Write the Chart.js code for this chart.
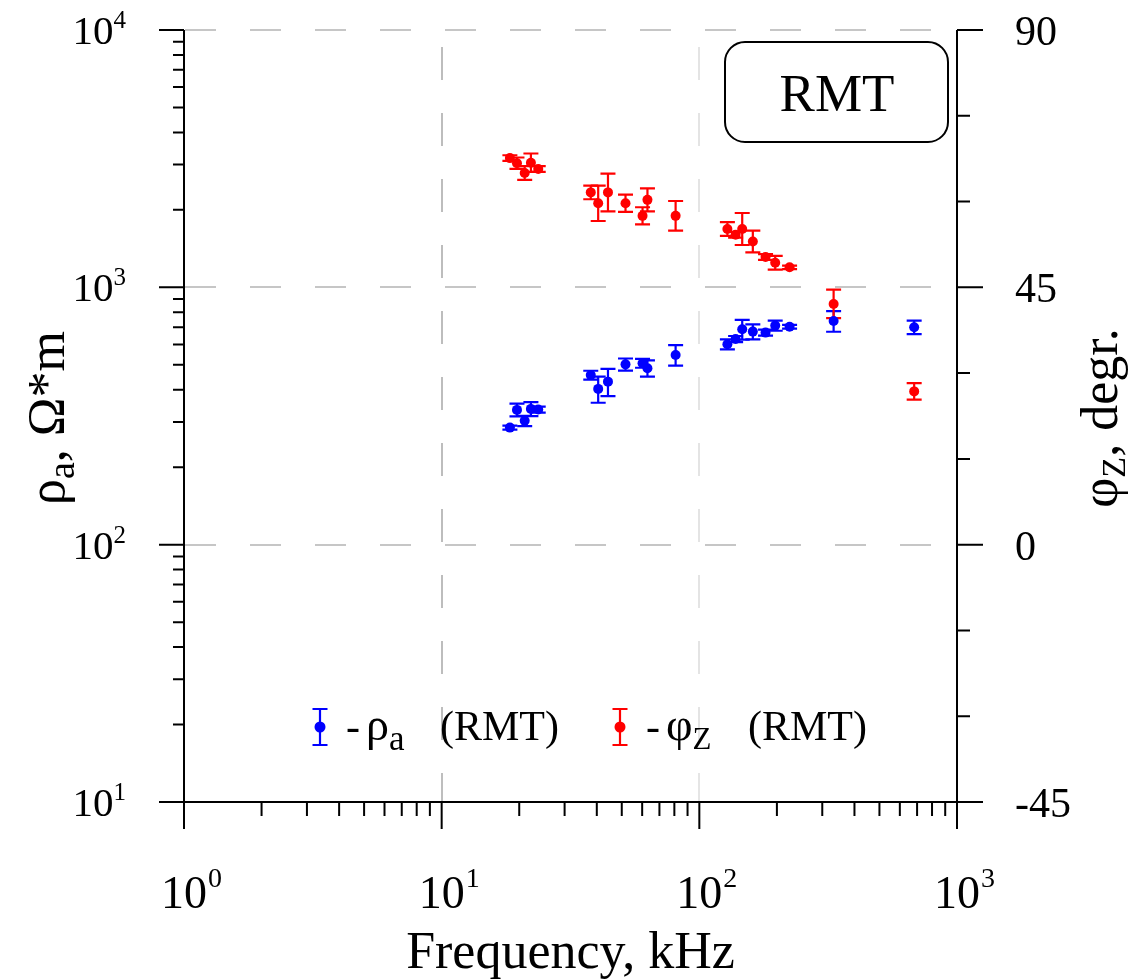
<!DOCTYPE html>
<html>
<head>
<meta charset="utf-8">
<script src="https://cdn.jsdelivr.net/npm/chart.js@4.4.0/dist/chart.umd.min.js"></script>
<style>
  html, body { margin: 0; padding: 0; background: #fff; }
  #wrap { width: 1130px; height: 980px; }
</style>
</head>
<body>
<div id="wrap"><canvas id="chart" width="1130" height="980"></canvas></div>
<script>
// RMT sounding data
const freqs = [18.4, 19.6, 21.0, 22.2, 23.7, 37.9, 40.5, 44.2, 51.7, 60.2, 62.9, 80.9,
               128.5, 138.3, 146.7, 161.3, 180.7, 197, 224, 332, 682];
const rhoValues = [285, 334, 303, 337, 335, 456, 403, 430, 502, 507, 485, 546,
                   601, 630, 687, 673, 667, 710, 703, 740, 700];
const rhoErrors = [5, 19, 14, 21, 9, 18, 47, 52, 27, 20, 35, 50,
                   27, 17, 61, 45, 18, 32, 12, 68, 42];
const phiValues = [67.6, 66.7, 65.0, 66.8, 65.7, 61.6, 59.7, 61.6, 59.7, 57.5, 60.3, 57.5,
                   55.2, 54.2, 55.2, 53.0, 50.3, 49.3, 48.5, 42.1, 26.8];
const phiErrors = [0.5, 1.0, 1.2, 1.6, 0.5, 1.2, 3.1, 3.3, 1.5, 1.5, 2.0, 2.6,
                   1.2, 0.5, 2.8, 1.9, 0.5, 1.2, 0.3, 2.5, 1.45];

// axis ticks
const freqTicks = [1, 10, 100, 1000];
const rhoTicks = [10, 100, 1000, 10000];
const phiTicks = [-45, 0, 45, 90];
const phiMinorStep = 15;

const BLUE = '#0000ff';
const RED = '#ff0000';
const SERIF = '"Liberation Serif", "Times New Roman", serif';

function font(size) {
    return size + 'px ' + SERIF;
}

// draw a run of text pieces [text, size, dy] starting at x
function drawRich(ctx, parts, x, y, align) {
    let w = 0;
    parts.forEach(p => { ctx.font = font(p[1]); w += ctx.measureText(p[0]).width; });
    let cx = align === 'center' ? x - w / 2 : (align === 'right' ? x - w : x);
    ctx.textAlign = 'left';
    ctx.textBaseline = 'alphabetic';
    parts.forEach(p => {
        ctx.font = font(p[1]);
        ctx.fillText(p[0], cx, y + p[2]);
        cx += ctx.measureText(p[0]).width;
    });
}

function minorLogValues(min, max) {
    const out = [];
    for (let d = min; d < max; d *= 10) {
        for (let k = 2; k <= 9; k++) out.push(d * k);
    }
    return out;
}

// dashed grid lines behind the data
const gridPlugin = {
    id: 'dashGrid',
    beforeDatasetsDraw(chart) {
        const { ctx, chartArea: a, scales } = chart;
        ctx.save();
        ctx.lineWidth = 1.5;
        ctx.strokeStyle = '#b4b4b4';
        ctx.setLineDash([31, 34]);
        rhoTicks.slice(1).forEach(v => {
            const y = Math.round(scales.y.getPixelForValue(v));
            ctx.beginPath();
            ctx.moveTo(a.left + 1, y);
            ctx.lineTo(a.right, y);
            ctx.stroke();
        });
        ctx.setLineDash([33, 33]);
        ctx.lineDashOffset = 4;
        const vColors = ['#a8a8a8', '#dcdcdc'];
        freqTicks.slice(1, 3).forEach((v, i) => {
            const x = Math.round(scales.x.getPixelForValue(v));
            ctx.strokeStyle = vColors[i];
            ctx.beginPath();
            ctx.moveTo(x, a.bottom);
            ctx.lineTo(x, a.top);
            ctx.stroke();
        });
        ctx.restore();
    }
};

// vertical error bars with caps
const errorBarPlugin = {
    id: 'errorBars',
    beforeDatasetsDraw(chart) {
        const { ctx } = chart;
        ctx.save();
        chart.data.datasets.forEach((ds, i) => {
            const meta = chart.getDatasetMeta(i);
            const scale = chart.scales[ds.yAxisID];
            ctx.strokeStyle = ds.borderColor;
            ctx.lineWidth = 2.2;
            meta.data.forEach((pt, j) => {
                const v = ds.data[j].y;
                const e = ds.errors[j];
                const yTop = scale.getPixelForValue(v + e);
                const yBot = scale.getPixelForValue(v - e);
                ctx.beginPath();
                ctx.moveTo(pt.x, yTop);
                ctx.lineTo(pt.x, yBot);
                ctx.moveTo(pt.x - 7.5, yTop);
                ctx.lineTo(pt.x + 7.5, yTop);
                ctx.moveTo(pt.x - 7.5, yBot);
                ctx.lineTo(pt.x + 7.5, yBot);
                ctx.stroke();
            });
        });
        ctx.restore();
    }
};

// axes, ticks, labels, legend and the RMT badge
const axesPlugin = {
    id: 'axesDecor',
    afterDraw(chart) {
        const { ctx, chartArea: a, scales } = chart;
        const sx = scales.x, sy = scales.y, sp = scales.y2;
        ctx.save();
        ctx.strokeStyle = '#000';
        ctx.fillStyle = '#000';
        ctx.lineWidth = 2;

        // axis lines
        ctx.beginPath();
        ctx.moveTo(a.left, a.top);
        ctx.lineTo(a.left, a.bottom + 27);
        ctx.moveTo(a.right, a.top);
        ctx.lineTo(a.right, a.bottom + 27);
        ctx.moveTo(a.left - 25, a.bottom);
        ctx.lineTo(a.right + 26, a.bottom);
        ctx.stroke();

        // bottom ticks
        ctx.beginPath();
        freqTicks.forEach(v => {
            const x = sx.getPixelForValue(v);
            ctx.moveTo(x, a.bottom);
            ctx.lineTo(x, a.bottom + 27);
        });
        minorLogValues(freqTicks[0], freqTicks[freqTicks.length - 1]).forEach(v => {
            const x = sx.getPixelForValue(v);
            ctx.moveTo(x, a.bottom);
            ctx.lineTo(x, a.bottom + 14);
        });
        // left ticks
        rhoTicks.forEach(v => {
            const y = sy.getPixelForValue(v);
            ctx.moveTo(a.left, y);
            ctx.lineTo(a.left - 25, y);
        });
        minorLogValues(rhoTicks[0], rhoTicks[rhoTicks.length - 1]).forEach(v => {
            const y = sy.getPixelForValue(v);
            ctx.moveTo(a.left, y);
            ctx.lineTo(a.left - 11, y);
        });
        // right ticks
        for (let v = phiTicks[0]; v <= phiTicks[phiTicks.length - 1]; v += phiMinorStep) {
            const y = sp.getPixelForValue(v);
            const major = phiTicks.includes(v);
            ctx.moveTo(a.right, y);
            ctx.lineTo(a.right + (major ? 26 : 13), y);
        }
        ctx.stroke();

        // bottom tick labels
        freqTicks.forEach(v => {
            const x = sx.getPixelForValue(v);
            ctx.font = font(46);
            ctx.textAlign = 'center';
            ctx.textBaseline = 'alphabetic';
            ctx.fillText('10', x, 908);
            const w = ctx.measureText('10').width;
            ctx.font = font(28);
            ctx.textAlign = 'left';
            ctx.fillText(String(Math.round(Math.log10(v))), x + w / 2 + 1, 887);
        });
        // left tick labels
        rhoTicks.forEach(v => {
            const y = sy.getPixelForValue(v);
            drawRich(ctx, [['10', 41, 14], [String(Math.round(Math.log10(v))), 25, -2]], 126, y, 'right');
        });
        // right tick labels
        phiTicks.forEach(v => {
            const y = sp.getPixelForValue(v);
            ctx.font = font(42);
            ctx.textAlign = 'left';
            ctx.textBaseline = 'alphabetic';
            ctx.fillText(String(v), 1015, y + 15);
        });

        // axis titles
        ctx.font = font(52);
        ctx.textAlign = 'center';
        ctx.fillText('Frequency, kHz', (a.left + a.right) / 2, 968);

        ctx.save();
        ctx.translate(64, 418);
        ctx.rotate(-Math.PI / 2);
        drawRich(ctx, [['\u03C1', 52, 0], ['a', 38, 10], [', \u03A9*m', 52, 0]], 0, 0, 'center');
        ctx.restore();

        ctx.save();
        ctx.translate(1117, 418);
        ctx.rotate(-Math.PI / 2);
        drawRich(ctx, [['\u03C6', 52, 0], ['Z', 34, 8], [', degr.', 52, 0]], 0, 0, 'center');
        ctx.restore();

        // legend
        const legend = [
            { x: 320, color: BLUE, sym: '\u03C1', sub: 'a', subSize: 35, subDy: 10, rmt: 120 },
            { x: 620, color: RED, sym: '\u03C6', sub: 'Z', subSize: 31, subDy: 9, rmt: 128 }
        ];
        legend.forEach(item => {
            const cy = 727;
            ctx.strokeStyle = item.color;
            ctx.fillStyle = item.color;
            ctx.lineWidth = 2.2;
            ctx.beginPath();
            ctx.moveTo(item.x, cy - 18);
            ctx.lineTo(item.x, cy + 18);
            ctx.moveTo(item.x - 7.5, cy - 18);
            ctx.lineTo(item.x + 7.5, cy - 18);
            ctx.moveTo(item.x - 7.5, cy + 18);
            ctx.lineTo(item.x + 7.5, cy + 18);
            ctx.stroke();
            ctx.beginPath();
            ctx.arc(item.x, cy, 5.5, 0, Math.PI * 2);
            ctx.fill();
            ctx.fillStyle = '#000';
            const base = cy + 13;
            drawRich(ctx, [['-', 42, 0]], item.x + 26, base, 'left');
            drawRich(ctx, [[item.sym, 46, 0], [item.sub, item.subSize, item.subDy]], item.x + 46, base, 'left');
            drawRich(ctx, [['(RMT)', 42, 0]], item.x + item.rmt, base, 'left');
        });

        // RMT badge
        ctx.strokeStyle = '#000';
        ctx.lineWidth = 2;
        ctx.beginPath();
        ctx.roundRect(725, 42, 223, 100, 20);
        ctx.stroke();
        ctx.fillStyle = '#000';
        ctx.font = font(53);
        ctx.textAlign = 'center';
        ctx.textBaseline = 'alphabetic';
        ctx.fillText('RMT', 837, 111);

        ctx.restore();
    }
};

const ctx = document.getElementById('chart').getContext('2d');
new Chart(ctx, {
    type: 'scatter',
    data: {
        datasets: [
            {
                label: '\u03C1a (RMT)',
                data: freqs.map((f, i) => ({ x: f, y: rhoValues[i] })),
                errors: rhoErrors,
                yAxisID: 'y',
                backgroundColor: BLUE,
                borderColor: BLUE,
                pointRadius: 5,
                pointBorderWidth: 0
            },
            {
                label: '\u03C6Z (RMT)',
                data: freqs.map((f, i) => ({ x: f, y: phiValues[i] })),
                errors: phiErrors,
                yAxisID: 'y2',
                backgroundColor: RED,
                borderColor: RED,
                pointRadius: 5,
                pointBorderWidth: 0
            }
        ]
    },
    options: {
        responsive: false,
        animation: false,
        devicePixelRatio: 1,
        layout: { padding: { left: 184, right: 173, top: 30, bottom: 178 } },
        plugins: {
            legend: { display: false },
            tooltip: { enabled: false }
        },
        scales: {
            x: { type: 'logarithmic', min: 1, max: 1000, display: false },
            y: { type: 'logarithmic', min: 10, max: 10000, display: false },
            y2: { type: 'linear', min: -45, max: 90, display: false, position: 'right' }
        }
    },
    plugins: [gridPlugin, errorBarPlugin, axesPlugin]
});
</script>
</body>
</html>
